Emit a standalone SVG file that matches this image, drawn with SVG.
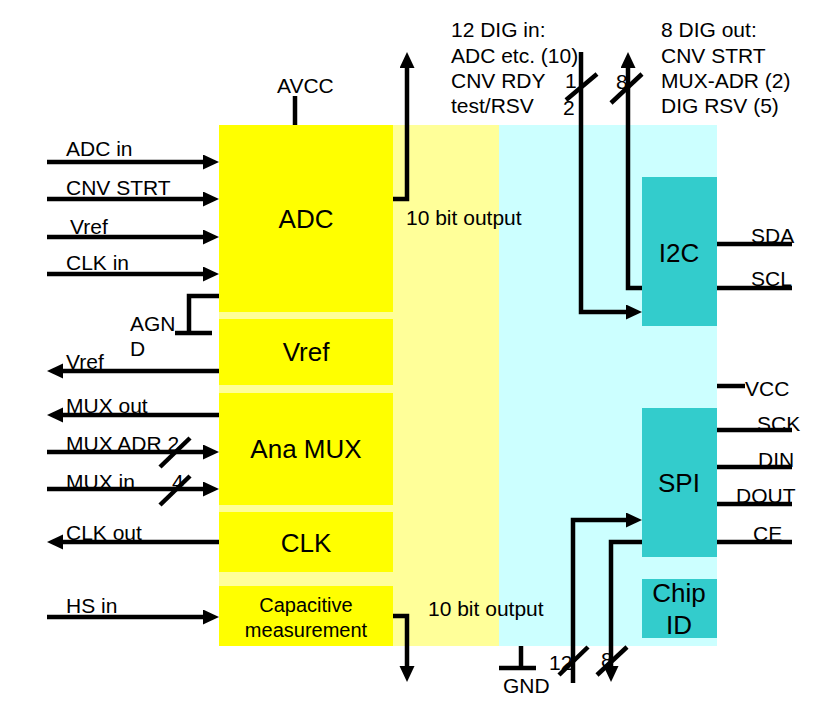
<svg xmlns="http://www.w3.org/2000/svg" width="827" height="710" viewBox="0 0 827 710">
<style>
text{font-family:"Liberation Sans",Arial,sans-serif;fill:#000}
.s{font-size:21px}
.b{font-size:26px;text-anchor:middle}
.c{font-size:20px;text-anchor:middle}
.w{fill:none;stroke:#000;stroke-width:4.5;stroke-linejoin:miter}
.ar{marker-end:url(#ah)}
.y{fill:#FFFF00}
.t{fill:#33CCCC}
</style>
<defs>
<marker id="ah" markerUnits="userSpaceOnUse" markerWidth="17" markerHeight="16" refX="6" refY="7.5" orient="auto" viewBox="0 0 17 16">
<path d="M0,0 L16,7.5 L0,15 z" fill="#000"/>
</marker>
</defs>
<g id="background">
<rect x="219" y="125" width="280" height="521" fill="#FFFF99"/>
<rect x="499" y="125" width="218" height="521" fill="#CCFFFF"/>
</g>
<g id="adc"><rect class="y" x="219" y="125" width="174" height="187"/><text class="b" x="306" y="228">ADC</text></g>
<g id="vref"><rect class="y" x="219" y="319" width="174" height="66"/><text class="b" x="306" y="361">Vref</text></g>
<g id="anamux"><rect class="y" x="219" y="393" width="174" height="112"/><text class="b" x="306" y="458">Ana MUX</text></g>
<g id="clk"><rect class="y" x="219" y="512" width="174" height="60"/><text class="b" x="306" y="552">CLK</text></g>
<g id="cap"><rect class="y" x="219" y="586" width="174" height="60"/><text class="c" x="306" y="612">Capacitive</text><text class="c" x="306" y="637">measurement</text></g>
<g id="i2c"><rect class="t" x="642" y="177" width="75" height="149"/><text class="b" x="679" y="262">I2C</text></g>
<g id="spi"><rect class="t" x="642" y="408" width="75" height="149"/><text class="b" x="679" y="492">SPI</text></g>
<g id="chipid"><rect class="t" x="642" y="579" width="75" height="59"/><text class="b" x="679" y="602">Chip</text><text class="b" x="679" y="634">ID</text></g>
<g id="connectors">
<line class="w ar" x1="47" y1="162" x2="209" y2="162"/>
<line class="w ar" x1="47" y1="199" x2="209" y2="199"/>
<line class="w ar" x1="47" y1="237" x2="209" y2="237"/>
<line class="w ar" x1="47" y1="274" x2="209" y2="274"/>
<polyline class="w" points="219,296 189,296 189,333"/>
<line class="w" x1="175" y1="333" x2="212" y2="333"/>
<line class="w ar" x1="219" y1="371" x2="57" y2="371"/>
<line class="w ar" x1="219" y1="415" x2="57" y2="415"/>
<line class="w ar" x1="47" y1="452" x2="209" y2="452"/>
<line class="w" x1="160" y1="467" x2="190" y2="438"/>
<line class="w ar" x1="47" y1="489" x2="209" y2="489"/>
<line class="w" x1="160" y1="505" x2="190" y2="476"/>
<line class="w ar" x1="219" y1="542" x2="57" y2="542"/>
<line class="w ar" x1="47" y1="617" x2="209" y2="617"/>
<line class="w" x1="295" y1="96" x2="295" y2="125"/>
<polyline class="w ar" points="393,199 407,199 407,62"/>
<polyline class="w ar" points="393,616 407,616 407,672"/>
<polyline class="w ar" points="581,52 581,312 632,312"/>
<line class="w" x1="566" y1="100" x2="597" y2="74"/>
<polyline class="w ar" points="642,288 628,288 628,62"/>
<line class="w" x1="611" y1="103" x2="642" y2="74"/>
<line class="w" x1="717" y1="244" x2="792" y2="244"/>
<line class="w" x1="717" y1="288" x2="792" y2="288"/>
<line class="w" x1="717" y1="386" x2="745" y2="386"/>
<line class="w" x1="717" y1="430" x2="792" y2="430"/>
<line class="w" x1="717" y1="467" x2="792" y2="467"/>
<line class="w" x1="717" y1="504" x2="792" y2="504"/>
<line class="w" x1="717" y1="542" x2="792" y2="542"/>
<polyline class="w ar" points="573,683 573,520 632,520"/>
<line class="w" x1="559" y1="675" x2="588" y2="647"/>
<polyline class="w ar" points="642,542 611,542 611,672"/>
<line class="w" x1="597" y1="675" x2="627" y2="647"/>
<line class="w" x1="521" y1="646" x2="521" y2="668"/>
<line class="w" x1="499" y1="668" x2="536" y2="668"/>
</g>
<g id="labels">
<text class="s" x="66" y="156">ADC in</text>
<text class="s" x="66" y="195">CNV STRT</text>
<text class="s" x="70" y="234">Vref</text>
<text class="s" x="66" y="270">CLK in</text>
<text class="s" x="130" y="331">AGN</text>
<text class="s" x="130" y="356">D</text>
<text class="s" x="66" y="369">Vref</text>
<text class="s" x="66" y="413">MUX out</text>
<text class="s" x="66" y="451">MUX ADR 2</text>
<text class="s" x="66" y="489">MUX in</text>
<text class="s" x="172" y="489">4</text>
<text class="s" x="66" y="540">CLK out</text>
<text class="s" x="66" y="613">HS in</text>
<text class="s" x="277" y="93">AVCC</text>
<text class="s" x="406" y="225">10 bit output</text>
<text class="s" x="428" y="616">10 bit output</text>
<text class="s" x="451" y="37">12 DIG in:</text>
<text class="s" x="451" y="63">ADC etc. (10)</text>
<text class="s" x="451" y="88">CNV RDY</text>
<text class="s" x="451" y="113">test/RSV</text>
<text class="s" x="565" y="88">1</text>
<text class="s" x="563" y="115">2</text>
<text class="s" x="616" y="89">8</text>
<text class="s" x="661" y="37">8 DIG out:</text>
<text class="s" x="661" y="63">CNV STRT</text>
<text class="s" x="661" y="88">MUX-ADR (2)</text>
<text class="s" x="661" y="113">DIG RSV (5)</text>
<text class="s" x="751" y="243">SDA</text>
<text class="s" x="751" y="286">SCL</text>
<text class="s" x="745" y="396">VCC</text>
<text class="s" x="757" y="431">SCK</text>
<text class="s" x="758" y="467">DIN</text>
<text class="s" x="736" y="503">DOUT</text>
<text class="s" x="753" y="541">CE</text>
<text class="s" x="549" y="670">12</text>
<text class="s" x="601" y="667">8</text>
<text class="s" x="503" y="693">GND</text>
</g>
</svg>
